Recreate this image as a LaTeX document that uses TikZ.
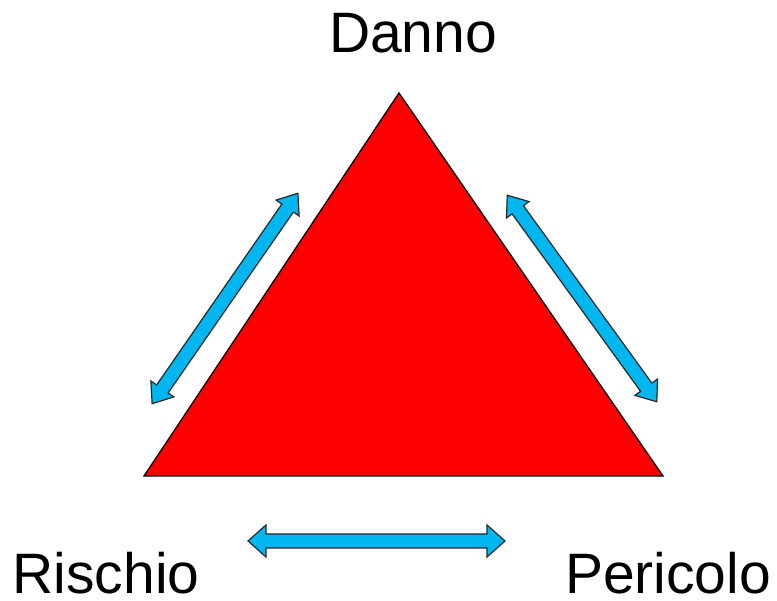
\documentclass[tikz,border=0pt]{standalone}
\usepackage{fontspec}
\setmainfont{Liberation Sans}
\definecolor{arrowblue}{RGB}{0,182,240}
\definecolor{arrowline}{RGB}{40,40,40}
\begin{document}
\begin{tikzpicture}[x=1pt,y=-1pt,
  label/.style={inner sep=0pt,anchor=base,font=\fontsize{57}{62}\selectfont},
  tri/.style={fill=red,draw=black,line width=1.3pt,line join=miter},
  blockarrow/.style={fill=arrowblue,draw=arrowline,line width=1.2pt,line join=miter}]
\useasboundingbox (0,0) rectangle (777,601);
% triangle
\coordinate (apex) at (399,93);
\coordinate (bl) at (144,476);
\coordinate (br) at (663,476);
\draw[tri] (apex) -- (br) -- (bl) -- cycle;
% double block arrows: centre, angle, length, half head width
\newcommand\myblockarrow[4]{%
  \begin{scope}[shift={#1},rotate=#2]
    \draw[blockarrow] (-#3/2,0) -- (-#3/2+18,-#4) -- (-#3/2+18,-7) -- (#3/2-18,-7) -- (#3/2-18,-#4) -- (#3/2,0)
      -- (#3/2-18,#4) -- (#3/2-18,7) -- (-#3/2+18,7) -- (-#3/2+18,#4) -- cycle;
  \end{scope}}
\myblockarrow{(225,298.5)}{55.3}{256}{14}
\myblockarrow{(582,298.5)}{-54.1}{255}{14}
\myblockarrow{(376.5,541)}{0}{257}{16}
% labels
\node[label] (danno) at (413,53) {Danno};
\node[label] (rischio) at (106,593) {Rischio};
\node[label] (pericolo) at (668,593) {Pericolo};
\end{tikzpicture}
\end{document}
